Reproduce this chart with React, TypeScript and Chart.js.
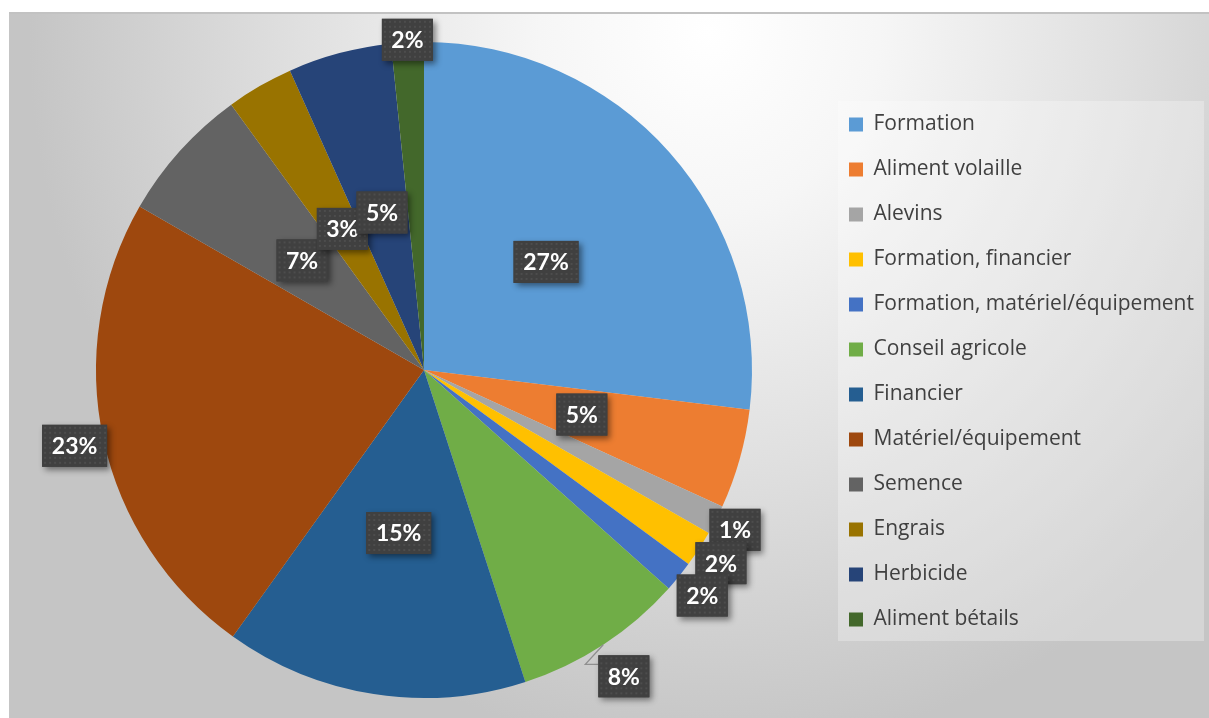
import React, { useEffect, useRef } from "react";
import { Chart, registerables } from "chart.js";

Chart.register(...registerables);

// ---------- data ----------
const categories = [
  "Formation",
  "Aliment volaille",
  "Alevins",
  "Formation, financier",
  "Formation, matériel/équipement",
  "Conseil agricole",
  "Financier",
  "Matériel/équipement",
  "Semence",
  "Engrais",
  "Herbicide",
  "Aliment bétails",
];
const shares = [26.93, 4.9, 1.45, 1.8, 1.52, 8.4, 14.9, 23.4, 6.7, 3.3, 5.1, 1.6];
const sliceColors = [
  "#5B9BD5",
  "#ED7D31",
  "#A5A5A5",
  "#FFC000",
  "#4472C4",
  "#70AD47",
  "#255E91",
  "#9E480E",
  "#636363",
  "#997300",
  "#264478",
  "#43682B",
];

// ---------- label layout (fraction of radius along slice mid-angle) ----------
const labelRadius = [0.497, 0.5, 1.066, 1.08, 1.092, 1.115, 0.503, 1.09, 0.5, 0.497, 0.497, 1.008];
const leaderKind = [0, 0, 0, 0, 1, 2, 0, 0, 0, 0, 0, 0];

const LEGEND_FONT = { family: "'Open Sans'", size: 21 };
const LEGEND_PAD = 24;
const LEGEND_SHIFT_Y = 2;
const LABEL_FONT = "bold 23px Lato";

export default function App() {
  const ref = useRef<HTMLCanvasElement>(null);

  useEffect(() => {
    const canvas = ref.current!;

    let dotPattern: CanvasPattern | null = null;
    const getPattern = (ctx: CanvasRenderingContext2D) => {
      if (dotPattern) return dotPattern;
      const off = document.createElement("canvas");
      off.width = 5;
      off.height = 5;
      const o = off.getContext("2d")!;
      o.fillStyle = "#404040";
      o.fillRect(0, 0, 5, 5);
      o.fillStyle = "#4d4d4d";
      o.fillRect(2, 2, 2, 2);
      dotPattern = ctx.createPattern(off, "repeat");
      return dotPattern;
    };

    const fixLegend = {
      id: "fixLegend",
      beforeLayout(chart: any) {
        const lg = chart.legend;
        if (lg && !lg.__patched) {
          const orig = lg.fit.bind(lg);
          lg.fit = function () {
            orig();
            this.width = 384;
          };
          lg.__patched = true;
        }
      },
      afterLayout(chart: any) {
        const lg = chart.legend;
        if (lg) {
          lg.top += LEGEND_SHIFT_Y;
          lg.bottom += LEGEND_SHIFT_Y;
        }
      },
    };

    const background = {
      id: "background",
      beforeDraw(chart: any) {
        const ctx: CanvasRenderingContext2D = chart.ctx;
        const W = chart.width;
        const H = chart.height;
        ctx.save();
        const cx = 700,
          cy = 20,
          rx = 680,
          ry = 720;
        ctx.translate(cx, cy);
        ctx.scale(1, ry / rx);
        const g = ctx.createRadialGradient(0, 0, 0, 0, 0, rx);
        g.addColorStop(0, "#ffffff");
        g.addColorStop(0.25, "#f6f6f6");
        g.addColorStop(0.6, "#e0e0e0");
        g.addColorStop(0.85, "#cfcfcf");
        g.addColorStop(1, "#c5c5c5");
        ctx.fillStyle = g;
        ctx.fillRect(-cx, -cy * (rx / ry), W, H * (rx / ry) + 10);
        ctx.restore();

        ctx.fillStyle = "#c2c2c2";
        ctx.fillRect(0, 0, W, 2);

        // legend panel
        const lg = chart.legend;
        if (lg) {
          const n = categories.length;
          const pitch = LEGEND_FONT.size + LEGEND_PAD;
          const colH = n * pitch;
          const y0 = (lg.top + LEGEND_PAD + lg.bottom - colH) / 2;
          const top = y0 - 13;
          const bottom = y0 + (n - 1) * pitch + 32;
          const left = lg.left + 13;
          ctx.fillStyle = "rgba(255,255,255,0.28)";
          ctx.fillRect(left, top, 366, bottom - top);
        }
      },
    };

    const pctLabels = {
      id: "pctLabels",
      afterDatasetsDraw(chart: any) {
        const ctx: CanvasRenderingContext2D = chart.ctx;
        const meta = chart.getDatasetMeta(0);
        const data: number[] = chart.data.datasets[0].data;
        const total = data.reduce((a, b) => a + b, 0);
        ctx.save();
        ctx.font = LABEL_FONT;
        const boxes = meta.data.map((arc: any, i: number) => {
          const { x, y, startAngle, endAngle, outerRadius } = arc.getProps(
            ["x", "y", "startAngle", "endAngle", "outerRadius"],
            true
          );
          const mid = (startAngle + endAngle) / 2;
          const r = outerRadius * labelRadius[i];
          const bx = x + Math.cos(mid) * r;
          const by = y + Math.sin(mid) * r;
          const text = Math.round((data[i] / total) * 100) + "%";
          const tw = ctx.measureText(text).width;
          const w = Math.round(tw + 19);
          const h = 42;
          return {
            text,
            cx: bx,
            cy: by,
            left: bx - w / 2,
            top: by - h / 2,
            w,
            h,
            ex: x + Math.cos(mid) * outerRadius,
            ey: y + Math.sin(mid) * outerRadius,
          };
        });

        // leader lines
        ctx.strokeStyle = "#8f8f8f";
        ctx.lineWidth = 1.3;
        boxes.forEach((b: any, i: number) => {
          if (leaderKind[i] === 1) {
            ctx.beginPath();
            ctx.moveTo(b.ex, b.ey);
            ctx.lineTo(b.left + 19, b.top + 2);
            ctx.stroke();
          } else if (leaderKind[i] === 2) {
            ctx.beginPath();
            ctx.moveTo(b.ex, b.ey);
            ctx.lineTo(b.left - 13, b.top + 9);
            ctx.lineTo(b.left, b.top + 9);
            ctx.stroke();
          }
        });

        boxes.forEach((b: any) => {
          ctx.save();
          ctx.shadowColor = "rgba(0,0,0,0.45)";
          ctx.shadowBlur = 6;
          ctx.shadowOffsetX = 3;
          ctx.shadowOffsetY = 3;
          ctx.fillStyle = "#404040";
          ctx.fillRect(b.left, b.top, b.w, b.h);
          ctx.restore();
          ctx.save();
          ctx.translate(b.left, b.top);
          ctx.fillStyle = getPattern(ctx) || "#404040";
          ctx.fillRect(0, 0, b.w, b.h);
          ctx.restore();
          ctx.fillStyle = "#ffffff";
          ctx.textAlign = "center";
          ctx.textBaseline = "middle";
          ctx.font = LABEL_FONT;
          ctx.fillText(b.text, b.cx, b.cy + 1);
        });
        ctx.restore();
      },
    };

    const chart = new Chart(canvas, {
      type: "pie",
      data: {
        labels: categories,
        datasets: [
          {
            data: shares,
            backgroundColor: sliceColors,
            borderWidth: 0,
            hoverOffset: 0,
          },
        ],
      },
      options: {
        animation: false,
        responsive: false,
        events: [],
        layout: { padding: { left: 14, top: 30, bottom: 20, right: 0 } },
        plugins: {
          legend: {
            position: "right",
            labels: {
              boxWidth: 14,
              boxHeight: 14,
              padding: LEGEND_PAD,
              color: "#404040",
              font: LEGEND_FONT,
            },
          },
          tooltip: { enabled: false },
        },
      },
      plugins: [fixLegend, background, pctLabels],
    });
    return () => chart.destroy();
  }, []);

  return (
    <canvas
      ref={ref}
      width={1200}
      height={706}
      style={{ position: "fixed", left: 9, top: 12, width: 1200, height: 706 }}
    />
  );
}
